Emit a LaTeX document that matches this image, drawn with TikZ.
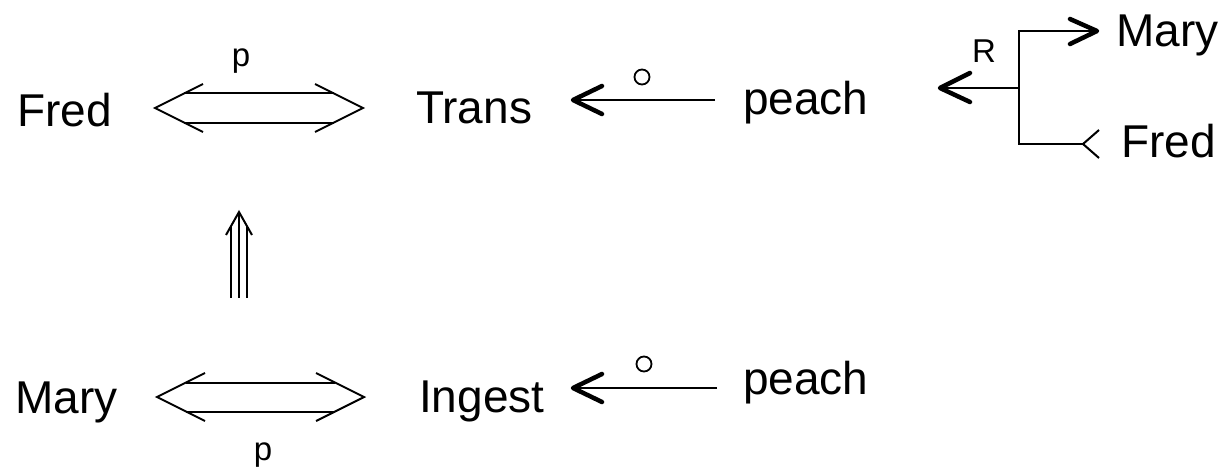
\documentclass[tikz,border=0pt]{standalone}
\usepackage{fontspec}
\setmainfont{Liberation Sans}
\begin{document}
\begin{tikzpicture}[x=1pt,y=-1pt,
  word/.style={inner sep=0pt,anchor=base west,font=\fontsize{46}{50}\selectfont},
  lab/.style={inner sep=0pt,anchor=base,font=\fontsize{33}{36}\selectfont},
  thin/.style={line width=2pt,line cap=butt,line join=miter},
  head/.style={line width=4.5pt,line cap=round,line join=round},
  ring/.style={line width=1.8pt}]
\useasboundingbox (0,0) rectangle (1230,468);
% words
\node[word] (fredA) at (17,126) {Fred};
\node[word] (trans) at (416,124) {Trans};
\node[word] (peachA) at (743,114) {peach};
\node[word] (maryR) at (1116,47) {Mary};
\node[word] (fredR) at (1121,157) {Fred};
\node[word] (maryB) at (15,413) {Mary};
\node[word] (ingest) at (419,412) {Ingest};
\node[word] (peachB) at (743,394) {peach};
\node[lab] (pA) at (241,67) {p};
\node[lab] (pB) at (263,460) {p};
\node[lab,anchor=base west] (rlab) at (972,63) {R};
% top double arrow
\coordinate (dAl) at (155,108); \coordinate (dAr) at (363,108);
\draw[thin] (203,84) -- (dAl) -- (203,132);
\draw[thin] (315,84) -- (dAr) -- (315,132);
\draw[thin] (184,93.5) -- (334,93.5);
\draw[thin] (184,122.5) -- (334,122.5);
% bottom double arrow
\coordinate (dBl) at (157,397); \coordinate (dBr) at (364,397);
\draw[thin] (205,373) -- (dBl) -- (205,421);
\draw[thin] (316,373) -- (dBr) -- (316,421);
\draw[thin] (186,382.5) -- (335,382.5);
\draw[thin] (186,411.5) -- (335,411.5);
% triple arrow
\coordinate (tTip) at (239,212);
\draw[thin] (226,235) -- (tTip) -- (252,235);
\draw[thin] (tTip) -- (239,298);
\draw[thin] (231,226) -- (231,298);
\draw[thin] (247,226) -- (247,298);
% top single arrow
\coordinate (sAt) at (573,100); \coordinate (sAe) at (715,100);
\draw[thin] (sAe) -- (sAt);
\draw[head] (602,86) -- (sAt) -- (602,114);
\draw[ring] (642,77) circle (7.5);
% bottom single arrow
\coordinate (sBt) at (573,388); \coordinate (sBe) at (717,388);
\draw[thin] (sBe) -- (sBt);
\draw[head] (602,374) -- (sBt) -- (602,402);
\draw[ring] (644,364) circle (7.5);
% R fork
\coordinate (rTip) at (940,88); \coordinate (rJ) at (1019,88);
\coordinate (rTop) at (1019,31); \coordinate (rBot) at (1019,144);
\coordinate (mTip) at (1097,31); \coordinate (fEnd) at (1083,144);
\draw[thin] (rJ) -- (rTip);
\draw[head] (970,73) -- (rTip) -- (970,102);
\draw[thin] (mTip) -- (rTop) -- (rBot) -- (fEnd);
\draw[head] (1070,19) -- (mTip) -- (1070,44);
\draw[thin] (1099,130) -- (fEnd) -- (1099,158);
\end{tikzpicture}
\end{document}
